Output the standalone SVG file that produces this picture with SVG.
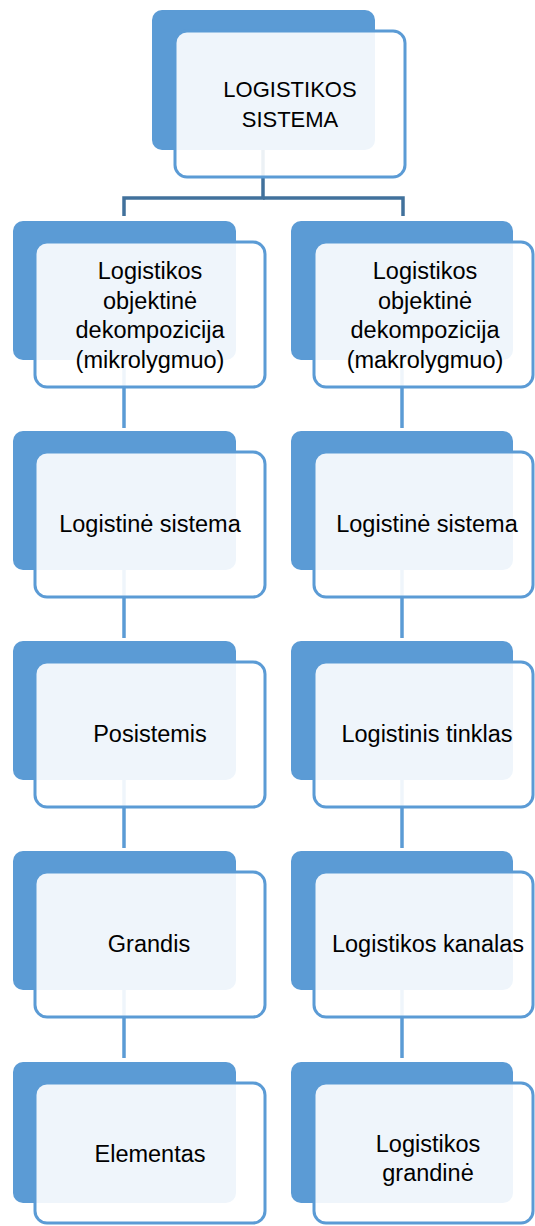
<svg xmlns="http://www.w3.org/2000/svg" width="535" height="1226" viewBox="0 0 535 1226">
<style>
.back{fill:#5B9BD5;}
.front{fill:#FFFFFF;fill-opacity:0.9;stroke:#5B9BD5;stroke-width:3;}
.t{font-family:"Liberation Sans",Arial,sans-serif;font-size:23.5px;fill:#000;text-anchor:middle;}
.tu{font-size:22px;}
.c1{stroke:#41719C;stroke-width:3.5;fill:none;}
.c2{stroke:#5B9BD5;stroke-width:3.5;fill:none;}
</style>
<rect width="535" height="1226" fill="#FFFFFF"/>
<g id="connectors">
<polyline class="c1" points="263,150 263,198 124,198 124,216"/>
<polyline class="c1" points="263,198 403,198 403,216"/>
<line class="c2" x1="124" y1="360" x2="124" y2="428"/>
<line class="c2" x1="124" y1="570" x2="124" y2="638"/>
<line class="c2" x1="124" y1="780" x2="124" y2="848"/>
<line class="c2" x1="124" y1="990" x2="124" y2="1058"/>
<line class="c2" x1="402" y1="360" x2="402" y2="428"/>
<line class="c2" x1="402" y1="570" x2="402" y2="638"/>
<line class="c2" x1="402" y1="780" x2="402" y2="848"/>
<line class="c2" x1="402" y1="990" x2="402" y2="1058"/>
</g>
<g id="n0">
<rect class="back" x="152" y="10" width="223" height="140" rx="10"/>
<rect class="front" x="175" y="31" width="230" height="146" rx="12"/>
<text class="t tu" x="290" y="97">LOGISTIKOS</text>
<text class="t tu" x="290" y="127">SISTEMA</text>
</g>
<g id="l1">
<rect class="back" x="13" y="221" width="223" height="139" rx="10"/>
<rect class="front" x="35" y="242" width="230" height="145" rx="12"/>
<text class="t" x="150" y="279">Logistikos</text>
<text class="t" x="150" y="308.5">objektinė</text>
<text class="t" x="150" y="338">dekompozicija</text>
<text class="t" x="150" y="367.5">(mikrolygmuo)</text>
</g>
<g id="r1">
<rect class="back" x="291" y="221" width="222" height="139" rx="10"/>
<rect class="front" x="314" y="242" width="219" height="145" rx="12"/>
<text class="t" x="425" y="279">Logistikos</text>
<text class="t" x="425" y="308.5">objektinė</text>
<text class="t" x="425" y="338">dekompozicija</text>
<text class="t" x="425" y="367.5">(makrolygmuo)</text>
</g>
<g id="l2">
<rect class="back" x="13" y="431" width="223" height="139" rx="10"/>
<rect class="front" x="35" y="452" width="230" height="145" rx="12"/>
<text class="t" x="150" y="532">Logistinė sistema</text>
</g>
<g id="r2">
<rect class="back" x="291" y="431" width="222" height="139" rx="10"/>
<rect class="front" x="314" y="452" width="219" height="145" rx="12"/>
<text class="t" x="427" y="532">Logistinė sistema</text>
</g>
<g id="l3">
<rect class="back" x="13" y="641" width="223" height="139" rx="10"/>
<rect class="front" x="35" y="662" width="230" height="145" rx="12"/>
<text class="t" x="150" y="742">Posistemis</text>
</g>
<g id="r3">
<rect class="back" x="291" y="641" width="222" height="139" rx="10"/>
<rect class="front" x="314" y="662" width="219" height="145" rx="12"/>
<text class="t" x="427" y="742">Logistinis tinklas</text>
</g>
<g id="l4">
<rect class="back" x="13" y="851" width="223" height="139" rx="10"/>
<rect class="front" x="35" y="872" width="230" height="145" rx="12"/>
<text class="t" x="149" y="952">Grandis</text>
</g>
<g id="r4">
<rect class="back" x="291" y="851" width="222" height="139" rx="10"/>
<rect class="front" x="314" y="872" width="219" height="145" rx="12"/>
<text class="t" x="428" y="952">Logistikos kanalas</text>
</g>
<g id="l5">
<rect class="back" x="13" y="1062" width="223" height="141" rx="10"/>
<rect class="front" x="35" y="1083" width="230" height="140" rx="12"/>
<text class="t" x="150" y="1162">Elementas</text>
</g>
<g id="r5">
<rect class="back" x="291" y="1062" width="222" height="141" rx="10"/>
<rect class="front" x="314" y="1083" width="219" height="140" rx="12"/>
<text class="t" x="428" y="1152">Logistikos</text>
<text class="t" x="428" y="1181">grandinė</text>
</g>
</svg>
